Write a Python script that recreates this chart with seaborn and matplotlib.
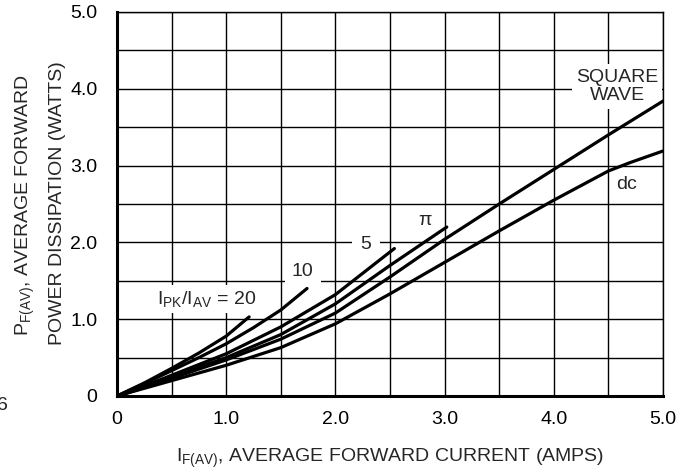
import numpy as np
import pandas as pd
import matplotlib
matplotlib.use("Agg")
import matplotlib.pyplot as plt
import seaborn as sns

# Curves (I_F(AV) in amps, P_F(AV) in watts)
x_20 = [0, 0.25, 0.5, 0.75, 1.0, 1.21]
y_20 = [0, 0.17, 0.36, 0.56, 0.78, 1.03]

x_10 = [0, 0.25, 0.5, 0.75, 1.0, 1.25, 1.5, 1.74]
y_10 = [0, 0.16, 0.33, 0.50, 0.68, 0.89, 1.12, 1.40]

x_5 = [0, 0.25, 0.5, 1.0, 1.5, 2.0, 2.54]
y_5 = [0, 0.13, 0.27, 0.55, 0.90, 1.32, 1.92]

x_pi = [0, 0.25, 0.5, 1.0, 1.5, 2.0, 2.5, 3.02]
y_pi = [0, 0.12, 0.25, 0.50, 0.80, 1.20, 1.70, 2.20]

x_sq = [0, 0.25, 0.5, 1.0, 1.5, 2.0, 2.5, 3.0, 3.5, 4.0, 4.5, 5.0]
y_sq = [0, 0.11, 0.23, 0.47, 0.74, 1.08, 1.55, 2.04, 2.50, 2.95, 3.40, 3.84]

x_dc = [0, 0.25, 0.5, 1.0, 1.5, 2.0, 2.5, 3.0, 3.5, 4.0, 4.5, 4.7, 5.0]
y_dc = [0, 0.10, 0.20, 0.40, 0.63, 0.94, 1.33, 1.74, 2.15, 2.55, 2.93, 3.04, 3.19]

x_ticks = [0, 1.0, 2.0, 3.0, 4.0, 5.0]
x_tick_labels = ["0", "1.0", "2.0", "3.0", "4.0", "5.0"]
y_ticks = [0, 1.0, 2.0, 3.0, 4.0, 5.0]
y_tick_labels = ["0", "1.0", "2.0", "3.0", "4.0", "5.0"]

sns.set_theme(style="white")
plt.rcParams['font.family'] = ['Liberation Sans', 'DejaVu Sans']
plt.rcParams['mathtext.default'] = 'regular'

fs = 14
fig = plt.figure(figsize=(6.87, 4.71), dpi=100)
ax = fig.add_axes([117 / 687, 75 / 471, 546 / 687, 384 / 471])

for xs, ys in [(x_20, y_20), (x_10, y_10), (x_5, y_5), (x_pi, y_pi), (x_sq, y_sq), (x_dc, y_dc)]:
    sns.lineplot(x=xs, y=ys, ax=ax, color="black", linewidth=2.3, sort=False,
                 estimator=None, zorder=4)

ax.set_xlim(0, 5.0)
ax.set_ylim(0, 5.0)
ax.set_xticks(x_ticks)
ax.set_xticklabels(x_tick_labels)
ax.set_yticks(y_ticks)
ax.set_yticklabels(y_tick_labels)
# grid every 0.5
ax.set_xticks(np.arange(0.5, 5.0, 1.0), minor=True)
ax.set_yticks(np.arange(0.5, 5.0, 1.0), minor=True)
ax.grid(True, which="both", color="black", linewidth=1.0)
ax.set_axisbelow(True)
ax.tick_params(axis="both", which="both", length=0, labelsize=fs, colors="black")
ax.tick_params(axis="x", pad=11)
ax.tick_params(axis="y", pad=14)

for side in ["top", "right"]:
    ax.spines[side].set_linewidth(1.0)
    ax.spines[side].set_color("black")
for side in ["left", "bottom"]:
    ax.spines[side].set_linewidth(2.2)
    ax.spines[side].set_color("black")

ax.set_xlabel(r"I$_{F(AV)}$, AVERAGE FORWARD CURRENT (AMPS)", fontsize=fs, labelpad=13)

fig.text(25 / 687, 1 - 205 / 471, r"P$_{F(AV)}$, AVERAGE FORWARD", rotation=90,
         ha="center", va="center", fontsize=fs)
fig.text(57 / 687, 1 - 203 / 471, "POWER DISSIPATION (WATTS)", rotation=90,
         ha="center", va="center", fontsize=fs)

# labels sit above the grid but below the curves
box = dict(facecolor="white", edgecolor="none", pad=3)
ax.text(4.58, 4.03, "SQUARE\nWAVE", ha="center", va="center", fontsize=fs,
        linespacing=1.15, bbox=box, zorder=3)
ax.text(4.67, 2.76, "dc", ha="center", va="center", fontsize=fs, bbox=box, zorder=3)
ax.text(2.82, 2.29, r"$\pi$", ha="center", va="center", fontsize=fs, bbox=box, zorder=3)
ax.text(2.28, 1.97, "5", ha="center", va="center", fontsize=fs,
        bbox=dict(facecolor="white", edgecolor="none", pad=6), zorder=3)
ax.text(1.70, 1.62, "10", ha="center", va="center", fontsize=fs,
        bbox=dict(facecolor="white", edgecolor="none", pad=5), zorder=3)
ax.text(0.82, 1.26, r"I$_{PK}$/I$_{AV}$ = 20", ha="center", va="center", fontsize=fs,
        bbox=box, zorder=3)

fig.text(-0.004, 1 - 405 / 471, "6", ha="left", va="center", fontsize=fs)

fig.savefig("out.png", dpi=100, facecolor="white")
